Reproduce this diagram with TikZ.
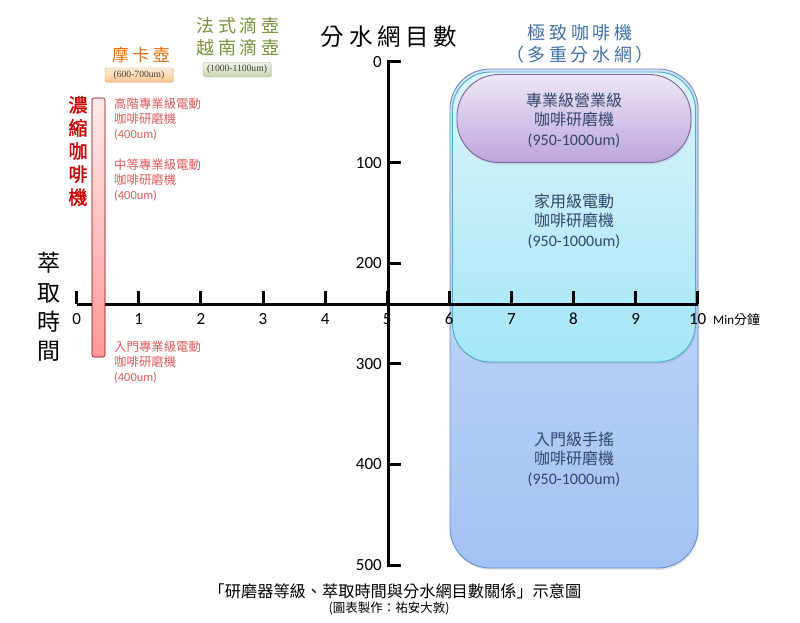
\documentclass[tikz,border=0pt]{standalone}
\usepackage{fontspec}
\setmainfont{Noto Sans CJK TC}
\newfontfamily\latinf{Carlito}
\newfontfamily\seriff{Liberation Serif}
\newfontfamily\cjkwide[LetterSpace=20]{Noto Sans CJK TC}
\newfontfamily\cjkbold[FakeBold=1.5]{Noto Sans CJK TC}
\usepackage{tikz}
\usetikzlibrary{shadows}
\definecolor{handtop}{HTML}{D2E1FC}
\definecolor{handbot}{HTML}{A3C1F4}
\definecolor{handline}{HTML}{6A8FC8}
\definecolor{hometop}{HTML}{DDF4FC}
\definecolor{homebot}{HTML}{A4E6F7}
\definecolor{homeline}{HTML}{4BACC6}
\definecolor{protop}{HTML}{EEE7F6}
\definecolor{probot}{HTML}{BDA6DB}
\definecolor{proline}{HTML}{8064A2}
\definecolor{boxtxt}{HTML}{34476A}
\definecolor{titleblue}{HTML}{4070A8}
\definecolor{espred}{HTML}{CC0000}
\definecolor{redtxt}{HTML}{E05A5A}
\definecolor{mokaorange}{HTML}{E46C0A}
\definecolor{dripgreen}{HTML}{77933C}
\tikzset{every node/.style={inner sep=0pt},
    axis/.style={line width=3pt},
    grinder/.style={draw,line width=0.9pt,rounded corners=40pt,
        drop shadow={shadow xshift=1pt,shadow yshift=-2pt,opacity=0.2}},
    boxtext/.style={text=boxtxt,align=center,font=\fontsize{16}{19.5}\selectfont},
    redtext/.style={text=redtxt,align=left,anchor=west,font=\fontsize{12.4}{15}\selectfont},
    tag/.style={draw,rounded corners=2pt,minimum width=68pt,minimum height=14pt,
        text=black!75,font=\seriff\fontsize{9.6}{10}\selectfont,
        drop shadow={shadow xshift=1pt,shadow yshift=-1pt,opacity=0.25}},
    ticklabel/.style={font=\latinf\fontsize{17}{17}\selectfont}}

\begin{document}
\begin{tikzpicture}[x=1pt,y=-1pt]
\useasboundingbox (0,0) rectangle (800,623);
% grinder ranges
\node[grinder,draw=handline,top color=handtop,bottom color=handbot,
    minimum width=248pt,minimum height=499pt] (handbox) at (574,318.5) {};
\node[grinder,draw=homeline,top color=hometop,bottom color=homebot,rounded corners=38pt,
    minimum width=243pt,minimum height=290pt] (homebox) at (574,217) {};
\node[grinder,draw=proline,top color=protop,bottom color=probot,rounded corners=42pt,
    minimum width=234pt,minimum height=88pt] (probox) at (574,118.5) {};
\node[boxtext] (protext) at (574,120) {專業級營業級\\咖啡研磨機\\{\latinf(950-1000um)}};
\node[boxtext] (hometext) at (574,221) {家用級電動\\咖啡研磨機\\{\latinf(950-1000um)}};
\node[boxtext] (handtext) at (574,459) {入門級手搖\\咖啡研磨機\\{\latinf(950-1000um)}};
\node[text=titleblue,align=center,font=\cjkwide\fontsize{18}{22.5}\selectfont] (toptitle) at (580,44) {極致咖啡機\\（多重分水網）};
% axes
\draw[axis] (76.7,304) -- (697.7,304);
\foreach \t in {0,...,10} {
    \draw[axis] ({76.7+62.1*\t},291) -- ({76.7+62.1*\t},304);
    \node[ticklabel] (x\t) at ({76.7+62.1*\t},319) {\t};
}
\draw[axis] (401,62) -- (388,62) -- (388,565) -- (401,565);
\foreach \v in {100,200,300,400}
    \draw[axis] (388,{62+1.006*\v}) -- (401,{62+1.006*\v});
\foreach \v in {0,100,...,500}
    \node[ticklabel,anchor=east] (y\v) at (382,{62+1.006*\v}) {\v};
\node[anchor=west,font=\fontsize{13}{13}\selectfont] (xunit) at (713,320) {{\latinf Min}分鐘};
\node[font=\cjkwide\fontsize{23.5}{24}\selectfont] (ytitle) at (389,37) {分水網目數};
\node[align=center,font=\fontsize{23}{29.3}\selectfont] (xtitle) at (49,307) {萃\\取\\時\\間};
% espresso
\node[draw=espred!70!black,line width=0.6pt,rounded corners=2pt,top color=red!8,bottom color=red!40,
    minimum width=13pt,minimum height=259pt] (espbar) at (98.5,227.5) {};
\node[text=espred,align=center,font=\cjkbold\fontsize{19}{23.1}\selectfont] (esptitle) at (78,151) {濃\\縮\\咖\\啡\\機};
\node[redtext] (esphigh) at (114,119) {高階專業級電動\\咖啡研磨機\\{\latinf(400um)}};
\node[redtext] (espmid) at (114,180) {中等專業級電動\\咖啡研磨機\\{\latinf(400um)}};
\node[redtext] (esplow) at (114,362) {入門專業級電動\\咖啡研磨機\\{\latinf(400um)}};
% moka pot / drip
\node[text=mokaorange,font=\cjkwide\fontsize{17}{17}\selectfont] (moka) at (141,55) {摩卡壺};
\node[tag,draw=mokaorange!60,top color=orange!15,bottom color=orange!45] (mokatag) at (139,75) {(600-700um)};
\node[text=dripgreen,align=center,font=\cjkwide\fontsize{18}{22}\selectfont] (drip) at (238,37) {法式滴壺\\越南滴壺};
\node[tag,draw=dripgreen!70,top color=dripgreen!12,bottom color=dripgreen!40] (driptag) at (237,69.5) {(1000-1100um)};
% caption
\node[font=\fontsize{16.2}{17}\selectfont] (caption) at (395,591) {「研磨器等級、萃取時間與分水網目數關係」示意圖};
\node[font=\fontsize{12.5}{13}\selectfont] (credit) at (389,608) {(圖表製作：祐安大敦)};
\end{tikzpicture}
\end{document}
